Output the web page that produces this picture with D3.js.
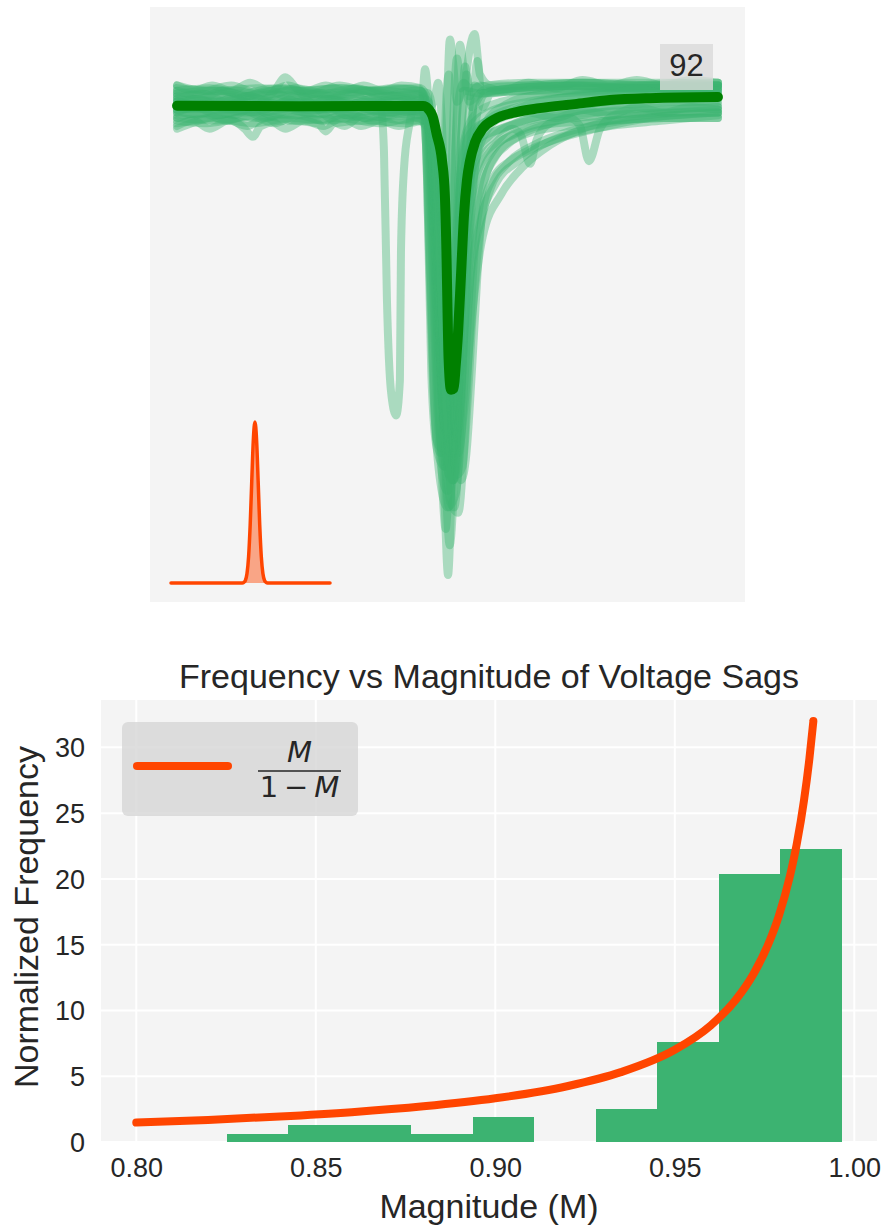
<!DOCTYPE html>
<html>
<head>
<meta charset="utf-8">
<script src="https://cdn.jsdelivr.net/npm/d3@7"></script>
<style>
  body { margin: 0; background: #ffffff; }
  svg { display: block; }
</style>
</head>
<body>
<svg id="chart" width="886" height="1228"></svg>
<script>
// ---------------- Sag waveforms: time (ms) vs RMS voltage (p.u.) ----------------
const sagTraces = [
  [[0,1.005],[15,1.004],[30,1.005],[45,1.004],[60,1.005],[75,1.004],[89,1.005],[92,1.0],[94,0.96],[96,0.9],[98,0.87],[100,0.875],[102,0.92],[104,0.97],[106,1.0],[108,1.018],[110,1.025],[112,1.01],[116,1.006],[130,1.006],[150,1.007],[170,1.006],[185,1.007],[200,1.006]],
  [[0,1.003],[14,1.004],[28,1.002],[42,1.004],[56,1.003],[70,1.004],[84,1.002],[91,1.003],[93,0.99],[95,0.94],[97,0.88],[99,0.865],[101,0.9],[102.5,0.96],[103.5,1.0],[104.6,1.021],[106,1.012],[108,1.0],[112,1.003],[125,1.005],[140,1.006],[160,1.005],[180,1.006],[200,1.005]],
  [[0,1.0],[16,1.002],[32,1.0],[48,1.003],[64,1.001],[80,1.002],[90,1.001],[92,0.985],[94,0.93],[96,0.875],[97.5,0.87],[98.5,0.92],[99.5,0.98],[100.9,1.023],[102,1.015],[103.5,1.0],[106,1.004],[112,1.003],[125,1.004],[145,1.006],[170,1.005],[200,1.006]],
  [[0,0.998],[15,0.999],[30,0.997],[45,1.0],[60,0.998],[75,0.999],[88,0.998],[90.5,1.0],[91.7,1.012],[93,1.0],[95,0.97],[97,0.92],[99,0.87],[100.5,0.85],[102,0.87],[103.5,0.93],[105,0.97],[107,0.985],[110,0.99],[118,0.994],[130,0.997],[150,0.999],[175,1.001],[200,1.002]],
  [[0,0.996],[14,0.995],[28,0.997],[42,0.995],[56,0.996],[70,0.994],[84,0.996],[92,0.997],[95,1.0],[96.5,1.007],[98,0.99],[99.5,0.94],[101,0.88],[102.5,0.86],[104,0.88],[105.5,0.93],[107,0.965],[110,0.98],[115,0.987],[125,0.992],[140,0.996],[160,0.998],[180,1.0],[200,1.001]],
  [[0,0.994],[15,0.993],[30,0.995],[45,0.993],[60,0.994],[75,0.992],[88,0.994],[93,0.992],[95.5,0.96],[97.5,0.9],[99,0.85],[100.2,0.825],[101.3,0.85],[102.5,0.9],[104,0.95],[106,0.975],[110,0.985],[120,0.99],[135,0.994],[155,0.996],[180,0.997],[200,0.998]],
  [[0,1.002],[16,1.0],[32,1.003],[48,1.001],[64,1.003],[80,1.0],[90,1.001],[93,0.99],[95,0.95],[97,0.89],[98.5,0.85],[99.3,0.842],[100.5,0.86],[102,0.91],[104,0.96],[106,0.985],[110,0.995],[120,1.0],[140,1.003],[165,1.004],[200,1.005]],
  [[0,0.992],[14,0.994],[28,0.992],[42,0.994],[56,0.993],[70,0.995],[84,0.993],[92,0.993],[95,0.98],[97.5,0.93],[100,0.875],[102,0.86],[104,0.87],[106,0.9],[108,0.93],[112,0.955],[118,0.97],[126,0.978],[135,0.984],[145,0.988],[160,0.991],[180,0.993],[200,0.995]],
  [[0,0.997],[15,0.998],[30,0.996],[45,0.998],[60,0.997],[75,0.999],[90,0.997],[94,0.995],[97,0.975],[100,0.92],[102.5,0.88],[104,0.87],[106,0.885],[109,0.92],[113,0.95],[120,0.966],[128,0.976],[138,0.984],[150,0.99],[165,0.994],[185,0.996],[200,0.997]],
  [[0,1.001],[13,1.0],[26,1.002],[39,0.999],[52,1.001],[65,1.0],[78,1.002],[91,1.0],[94,0.985],[96.5,0.94],[99,0.885],[101,0.868],[103,0.885],[105,0.94],[107,0.972],[110,0.987],[116,0.994],[126,0.998],[140,1.001],[160,1.003],[180,1.004],[200,1.004]],
  [[0,0.999],[15,1.0],[30,0.998],[45,1.0],[60,0.999],[72,1.0],[75.4,0.997],[76.5,0.982],[77.6,0.927],[79.1,0.893],[81,0.884],[82.4,0.897],[82.8,0.945],[83.9,0.975],[85.8,0.991],[88,0.998],[92,0.998],[95,0.96],[97,0.91],[99,0.88],[101,0.89],[103,0.94],[105,0.975],[108,0.99],[115,0.996],[130,1.0],[150,1.002],[175,1.003],[200,1.003]],
  [[0,0.995],[15,0.996],[30,0.994],[45,0.996],[60,0.995],[75,0.997],[90,0.995],[94,0.99],[97,0.95],[99.5,0.9],[101.5,0.875],[103.5,0.9],[105.5,0.94],[108,0.965],[112,0.978],[118,0.985],[124,0.99],[127,0.988],[130.5,0.977],[133,0.986],[138,0.992],[145,0.994],[149,0.991],[152.3,0.978],[156.4,0.99],[162,0.995],[180,0.997],[200,0.998]],
  [[0,0.99],[8,0.993],[20,0.996],[30,0.999],[36,1.004],[40,1.009],[44,1.005],[50,0.999],[56,0.994],[62,0.991],[68,0.995],[80,0.997],[90,0.996],[94,0.99],[97,0.945],[99,0.9],[101,0.872],[103,0.885],[105,0.93],[107,0.962],[111,0.98],[118,0.988],[128,0.993],[145,0.996],[165,0.999],[185,1.0],[200,1.0]],
  [[0,0.993],[10,0.992],[20,0.993],[25,0.99],[28,0.987],[31,0.991],[40,0.993],[52,0.992],[55,0.989],[58,0.992],[70,0.993],[85,0.992],[92,0.993],[95,0.975],[98,0.92],[100.5,0.87],[102,0.86],[103.5,0.875],[105,0.915],[107,0.95],[110,0.97],[116,0.982],[125,0.988],[140,0.992],[160,0.993],[180,0.994],[200,0.994]],
  [[0,1.004],[12,1.005],[24,1.003],[36,1.005],[48,1.004],[60,1.005],[72,1.004],[84,1.005],[90,1.004],[92,1.0],[94,0.97],[96,0.92],[98,0.89],[99.5,0.893],[101,0.93],[102.5,0.975],[104,1.0],[106,1.007],[108,1.005],[115,1.006],[130,1.007],[150,1.007],[170,1.007],[200,1.007]],
  [[0,0.998],[16,0.997],[32,0.999],[48,0.997],[64,0.998],[80,0.996],[92,0.997],[95,0.993],[98,0.97],[101,0.92],[103,0.88],[105,0.86],[107,0.87],[109,0.9],[111,0.935],[113,0.96],[117,0.972],[123,0.978],[130,0.982],[140,0.986],[155,0.99],[175,0.994],[200,0.996]],
  [[0,1.0],[14,0.998],[28,1.0],[42,0.999],[56,1.001],[70,0.999],[84,1.0],[92,0.998],[95,0.97],[97.5,0.91],[99.5,0.855],[100.8,0.836],[102,0.85],[103.5,0.9],[105,0.95],[107,0.978],[111,0.99],[120,0.995],[135,0.998],[155,1.0],[180,1.002],[200,1.003]],
  [[0,1.002],[15,1.003],[30,1.001],[45,1.003],[60,1.002],[75,1.004],[90,1.002],[93,1.0],[96,0.96],[98.5,0.9],[100.5,0.862],[102,0.87],[103.5,0.93],[105,0.985],[106.5,1.013],[108,1.002],[110,1.006],[113,1.004],[125,1.005],[145,1.006],[170,1.005],[200,1.006]],
  [[0,0.997],[13,0.998],[26,0.996],[39,0.998],[52,0.997],[65,0.998],[78,0.996],[91,0.997],[94,0.99],[96.5,0.95],[99,0.9],[101,0.87],[103,0.875],[105,0.92],[107,0.96],[109,0.99],[111,1.015],[113,0.998],[116,1.003],[130,1.004],[150,1.005],[175,1.005],[200,1.005]],
  [[0,1.003],[8,1.001],[17,1.004],[25,1.002],[34,1.004],[43,1.001],[52,1.003],[61,1.002],[70,1.004],[79,1.002],[88,1.003],[91,1.002],[92.5,0.97],[94,0.9],[96,0.872],[99,0.865],[102,0.868],[104.5,0.885],[106.5,0.92],[108.5,0.955],[110.5,0.978],[114,0.992],[120,0.998],[135,1.003],[155,1.005],[175,1.006],[200,1.006]],
  [[0,0.994],[9,0.996],[18,0.993],[27,0.995],[36,0.992],[45,0.995],[54,0.993],[63,0.996],[72,0.993],[81,0.995],[90,0.994],[92,0.99],[93.5,0.94],[95,0.89],[97,0.862],[100,0.85],[103,0.855],[105,0.875],[107,0.91],[109,0.945],[112,0.97],[117,0.982],[126,0.989],[140,0.993],[160,0.995],[185,0.996],[200,0.996]],
  [[0,1.006],[10,1.004],[20,1.006],[30,1.003],[40,1.005],[50,1.003],[60,1.006],[70,1.004],[80,1.005],[90,1.004],[92,0.995],[94,0.95],[96,0.89],[98,0.862],[100,0.856],[102,0.87],[104,0.91],[106,0.955],[108,0.985],[110,1.0],[115,1.005],[130,1.006],[150,1.007],[175,1.006],[200,1.007]],
  [[0,0.996],[7,0.998],[15,0.995],[24,0.997],[33,0.994],[42,0.997],[51,0.995],[60,0.997],[69,0.994],[78,0.996],[87,0.995],[93,0.995],[96,0.985],[98.5,0.94],[101,0.89],[103.5,0.862],[105.5,0.865],[107.5,0.89],[109.5,0.925],[112,0.952],[116,0.968],[122,0.977],[132,0.984],[145,0.989],[165,0.993],[200,0.996]],
  [[0,1.001],[9,1.003],[18,1.0],[27,1.002],[36,0.999],[45,1.002],[54,1.0],[63,1.003],[72,1.0],[81,1.002],[91,1.001],[94,0.99],[96.5,0.94],[99,0.88],[101,0.852],[102.5,0.85],[104,0.865],[105.5,0.9],[107.5,0.945],[110,0.975],[115,0.99],[125,0.997],[145,1.002],[170,1.004],[200,1.004]],
  [[0,0.999],[8,1.001],[16,0.998],[24,1.0],[32,0.997],[40,1.0],[48,0.998],[56,1.001],[64,0.999],[72,1.001],[80,0.998],[88,1.0],[91.5,0.995],[93,0.95],[94.5,0.9],[96,0.875],[97.5,0.872],[99,0.89],[100.5,0.94],[102,0.99],[103.5,1.016],[105,1.005],[107,1.01],[109,0.998],[113,1.003],[125,1.004],[150,1.004],[175,1.005],[200,1.004]],
  [[0,0.991],[6,0.993],[12,0.99],[19,0.993],[26,0.991],[33,0.994],[40,0.99],[47,0.993],[54,0.991],[61,0.994],[68,0.991],[75,0.993],[82,0.991],[89,0.993],[93,0.99],[95.5,0.96],[98,0.91],[100,0.88],[102,0.872],[104,0.88],[106,0.91],[108,0.94],[111,0.962],[115,0.975],[122,0.984],[132,0.989],[145,0.991],[160,0.993],[180,0.994],[200,0.994]],
  [[0,1.006],[6,1.004],[13,1.006],[20,1.004],[27,1.007],[34,1.004],[41,1.006],[48,1.004],[55,1.006],[62,1.004],[69,1.006],[76,1.004],[83,1.006],[90,1.005],[93,1.0],[95,0.96],[97,0.91],[99,0.88],[101,0.875],[103,0.9],[105,0.945],[107,0.985],[109,1.003],[112,1.006],[120,1.004],[130,1.007],[140,1.005],[150,1.008],[160,1.006],[170,1.008],[180,1.006],[190,1.008],[200,1.007]],
  [[0,0.997],[7,0.995],[14,0.997],[21,0.995],[28,0.998],[35,0.995],[42,0.997],[49,0.996],[56,0.998],[63,0.995],[70,0.997],[77,0.995],[84,0.997],[91,0.996],[94,0.985],[96.5,0.93],[98.5,0.885],[100.5,0.862],[102,0.86],[103.5,0.88],[105,0.925],[106.5,0.96],[108.5,0.98],[112,0.99],[120,0.994],[130,0.996],[140,0.994],[150,0.997],[160,0.995],[170,0.998],[180,0.996],[190,0.998],[200,0.997]],
  [[0,1.0],[10,0.998],[20,1.001],[30,0.999],[40,1.001],[50,0.998],[60,1.0],[70,0.998],[80,1.001],[90,0.999],[93.5,0.997],[96,0.97],[98,0.92],[100,0.875],[102,0.85],[104,0.848],[106,0.87],[108,0.91],[110,0.945],[113,0.968],[118,0.98],[126,0.987],[138,0.992],[155,0.996],[180,0.998],[200,0.999]],
  [[0,1.004],[11,1.002],[22,1.004],[33,1.002],[44,1.005],[55,1.003],[66,1.005],[77,1.002],[88,1.004],[93,1.003],[95,0.99],[96.5,0.95],[97.5,0.93],[98.5,0.96],[99.5,1.0],[100.5,1.01],[101.5,0.98],[103,0.93],[104.5,0.9],[106,0.915],[108,0.96],[110,0.99],[114,1.003],[125,1.005],[150,1.006],[200,1.006]]
];

// Ensemble mean of all sag events
const meanTrace = [[0,0.9985],[45,0.9983],[91,0.9984],[93,0.9972],[94.5,0.9946],[96,0.988],[98,0.978],[99,0.966],[99.6,0.945],[100,0.923],[100.4,0.905],[101.3,0.8935],[102.3,0.894],[103,0.902],[103.9,0.9145],[105,0.936],[106.1,0.958],[107.2,0.971],[108.3,0.978],[110.2,0.985],[113,0.99],[117.6,0.9936],[124,0.9958],[134,0.9976],[147,0.9991],[160,1.0006],[175,1.0013],[200,1.0017]];

// Small inset pulse (relative units)
const pulseX = [0, 44.8, 45.8, 46.8, 47.8, 48.8, 49.8, 50.8, 51.8, 52.8, 53.8, 54.8, 55.8, 56.8, 57.8, 58.8, 59.8, 60.8, 100];
const pulseY = [0, 0, 0.004, 0.017, 0.059, 0.163, 0.36, 0.635, 0.893, 1, 0.893, 0.635, 0.36, 0.163, 0.059, 0.017, 0.004, 0, 0];

// ---------------- Histogram of sag magnitudes ----------------
const binEdges = [0.8252, 0.8423, 0.8594, 0.8766, 0.8937, 0.9108, 0.9280, 0.9451, 0.9623, 0.9794, 0.9965];
const binCounts = [1, 2, 2, 1, 3, 0, 4, 12, 32, 35];

// Reference curve M/(1-M), normalised over the plotted range
const curveM =    [0.800, 0.820, 0.840, 0.860, 0.880, 0.900, 0.920, 0.935, 0.950, 0.960, 0.967, 0.972, 0.976, 0.979, 0.982, 0.984, 0.986, 0.9875, 0.9886];
const curveFreq = [1.48, 1.68, 1.94, 2.27, 2.71, 3.32, 4.24, 5.31, 7.01, 8.86, 10.81, 12.81, 15.01, 17.20, 20.13, 22.69, 25.99, 29.15, 32.0];

const xTicks = [0.80, 0.85, 0.90, 0.95, 1.00];
const yTicks = [0, 5, 10, 15, 20, 25, 30];

// ---------------- drawing ----------------
const svg = d3.select("#chart");
const FONT = "'Liberation Sans', Arial, 'DejaVu Sans', sans-serif";
const TEXT = "#262626";
const BG = "#f4f4f4";
const TRACE = "#3cb371";
const ORANGE = "#ff4500";

function padded(lo, hi, frac) {
  const p = (hi - lo) * frac;
  return [lo - p, hi + p];
}

// ===== Top panel: overlaid sag waveforms =====
const wavePanel = { x: 150, y: 7, w: 595, h: 595 };
svg.append("rect").attr("x", wavePanel.x).attr("y", wavePanel.y).attr("width", wavePanel.w).attr("height", wavePanel.h).attr("fill", BG);

const allPts = sagTraces.flat().concat(meanTrace);
const tx = d3.scaleLinear().domain(padded(d3.min(allPts, d => d[0]), d3.max(allPts, d => d[0]), 0.05)).range([wavePanel.x, wavePanel.x + wavePanel.w]);
const ty = d3.scaleLinear().domain(padded(d3.min(allPts, d => d[1]), d3.max(allPts, d => d[1]), 0.05)).range([wavePanel.y + wavePanel.h, wavePanel.y]);

const traceLine = d3.line().x(d => tx(d[0])).y(d => ty(d[1])).curve(d3.curveMonotoneX);

const gWave = svg.append("g");
gWave.selectAll("path.trace").data(sagTraces).join("path")
  .attr("class", "trace")
  .attr("d", traceLine)
  .attr("fill", "none")
  .attr("stroke", TRACE)
  .attr("stroke-opacity", 0.4)
  .attr("stroke-width", 8)
  .attr("stroke-linecap", "round")
  .attr("stroke-linejoin", "round");

gWave.append("path")
  .datum(meanTrace)
  .attr("d", traceLine)
  .attr("fill", "none")
  .attr("stroke", "#008000")
  .attr("stroke-width", 10)
  .attr("stroke-linecap", "round")
  .attr("stroke-linejoin", "round");

// Inset pulse in the lower-left corner
const px = d3.scaleLinear().domain([0, 100]).range([171, 330]);
const py = d3.scaleLinear().domain([0, 1]).range([583, 422]);
const pulse = pulseX.map((x, i) => [x, pulseY[i]]);
gWave.append("path")
  .datum(pulse)
  .attr("d", d3.area().x(d => px(d[0])).y0(py(0)).y1(d => py(d[1])).curve(d3.curveMonotoneX))
  .attr("fill", ORANGE)
  .attr("fill-opacity", 0.45);
gWave.append("path")
  .datum(pulse)
  .attr("d", d3.line().x(d => px(d[0])).y(d => py(d[1])).curve(d3.curveMonotoneX))
  .attr("fill", "none")
  .attr("stroke", ORANGE)
  .attr("stroke-width", 3.5)
  .attr("stroke-linecap", "round")
  .attr("stroke-linejoin", "round");

// Event count badge
const eventCount = d3.sum(binCounts);
gWave.append("rect")
  .attr("x", 660).attr("y", 44).attr("width", 53).attr("height", 46)
  .attr("fill", "#d9d9d9").attr("fill-opacity", 0.8);
gWave.append("text")
  .attr("x", 686.5).attr("y", 75.5)
  .attr("text-anchor", "middle")
  .attr("font-family", FONT).attr("font-size", 31)
  .attr("fill", TEXT)
  .text(eventCount);

// ===== Bottom panel: frequency vs magnitude =====
const bot = { l: 101, r: 877, t: 700, b: 1142 };
svg.append("rect").attr("x", bot.l).attr("y", bot.t).attr("width", bot.r - bot.l).attr("height", bot.b - bot.t).attr("fill", BG);

const density = binCounts.map((c, i) => c / (eventCount * (binEdges[i + 1] - binEdges[i])));

const hx = d3.scaleLinear()
  .domain(padded(Math.min(curveM[0], binEdges[0]), Math.max(curveM[curveM.length - 1], binEdges[binEdges.length - 1]), 0.05))
  .range([bot.l, bot.r]);
const hy = d3.scaleLinear()
  .domain([0, Math.max(d3.max(curveFreq), d3.max(density)) * 1.05])
  .range([bot.b, bot.t]);

const gBot = svg.append("g");
// grid
gBot.selectAll("line.hgrid").data(yTicks).join("line")
  .attr("x1", bot.l).attr("x2", bot.r)
  .attr("y1", d => hy(d)).attr("y2", d => hy(d))
  .attr("stroke", "#ffffff").attr("stroke-width", 2);
gBot.selectAll("line.vgrid").data(xTicks).join("line")
  .attr("y1", bot.t).attr("y2", bot.b)
  .attr("x1", d => hx(d)).attr("x2", d => hx(d))
  .attr("stroke", "#ffffff").attr("stroke-width", 2);

// histogram bars
gBot.selectAll("rect.bar").data(density).join("rect")
  .attr("class", "bar")
  .attr("x", (d, i) => hx(binEdges[i]))
  .attr("width", (d, i) => hx(binEdges[i + 1]) - hx(binEdges[i]))
  .attr("y", d => hy(d))
  .attr("height", d => hy(0) - hy(d))
  .attr("fill", TRACE)
  .attr("shape-rendering", "crispEdges");

// reference curve
const curvePts = curveM.map((m, i) => [m, curveFreq[i]]);
gBot.append("path")
  .datum(curvePts)
  .attr("d", d3.line().x(d => hx(d[0])).y(d => hy(d[1])).curve(d3.curveMonotoneX))
  .attr("fill", "none")
  .attr("stroke", ORANGE)
  .attr("stroke-width", 8)
  .attr("stroke-linecap", "round")
  .attr("stroke-linejoin", "round");

// tick labels
const xAxis = d3.axisBottom(hx).tickValues(xTicks).tickFormat(d3.format(".2f")).tickSize(0).tickPadding(0);
const gx = gBot.append("g").attr("transform", `translate(0,${bot.b})`).call(xAxis);
gx.select(".domain").remove();
gx.selectAll("text")
  .attr("font-family", FONT).attr("font-size", 27).attr("fill", TEXT)
  .attr("dy", null).attr("y", 35);

const yAxis = d3.axisLeft(hy).tickValues(yTicks).tickFormat(d3.format("d")).tickSize(0).tickPadding(0);
const gy = gBot.append("g").attr("transform", `translate(${bot.l},0)`).call(yAxis);
gy.select(".domain").remove();
gy.selectAll("text")
  .attr("font-family", FONT).attr("font-size", 27).attr("fill", TEXT)
  .attr("x", -16).attr("dy", "0.35em");

// title and axis labels
svg.append("text")
  .attr("x", (bot.l + bot.r) / 2).attr("y", 688)
  .attr("text-anchor", "middle")
  .attr("font-family", FONT).attr("font-size", 34).attr("fill", TEXT)
  .text("Frequency vs Magnitude of Voltage Sags");
svg.append("text")
  .attr("x", (bot.l + bot.r) / 2).attr("y", 1218)
  .attr("text-anchor", "middle")
  .attr("font-family", FONT).attr("font-size", 34).attr("fill", TEXT)
  .text("Magnitude (M)");
svg.append("text")
  .attr("transform", `translate(38,917) rotate(-90)`)
  .attr("text-anchor", "middle")
  .attr("font-family", FONT).attr("font-size", 34).attr("fill", TEXT)
  .text("Normalized Frequency");

// legend
const lg = svg.append("g").attr("transform", "translate(122,722)");
lg.append("rect").attr("width", 236).attr("height", 94).attr("rx", 6)
  .attr("fill", "#d6d6d6").attr("fill-opacity", 0.8);
lg.append("line").attr("x1", 15).attr("x2", 106).attr("y1", 44).attr("y2", 44)
  .attr("stroke", ORANGE).attr("stroke-width", 8).attr("stroke-linecap", "round");
const MATH = "'DejaVu Sans', sans-serif";
lg.append("text").attr("x", 177.5).attr("y", 40)
  .attr("text-anchor", "middle").attr("font-family", MATH).attr("font-size", 29)
  .attr("font-style", "italic").attr("fill", TEXT).text("M");
lg.append("line").attr("x1", 136).attr("x2", 219).attr("y1", 49).attr("y2", 49)
  .attr("stroke", TEXT).attr("stroke-width", 1.6);
const den = lg.append("text").attr("x", 177.5).attr("y", 75)
  .attr("text-anchor", "middle").attr("font-family", MATH).attr("font-size", 29).attr("fill", TEXT);
den.append("tspan").text("1\u2009\u2212\u2009");
den.append("tspan").attr("font-style", "italic").text("M");
</script>
</body>
</html>
